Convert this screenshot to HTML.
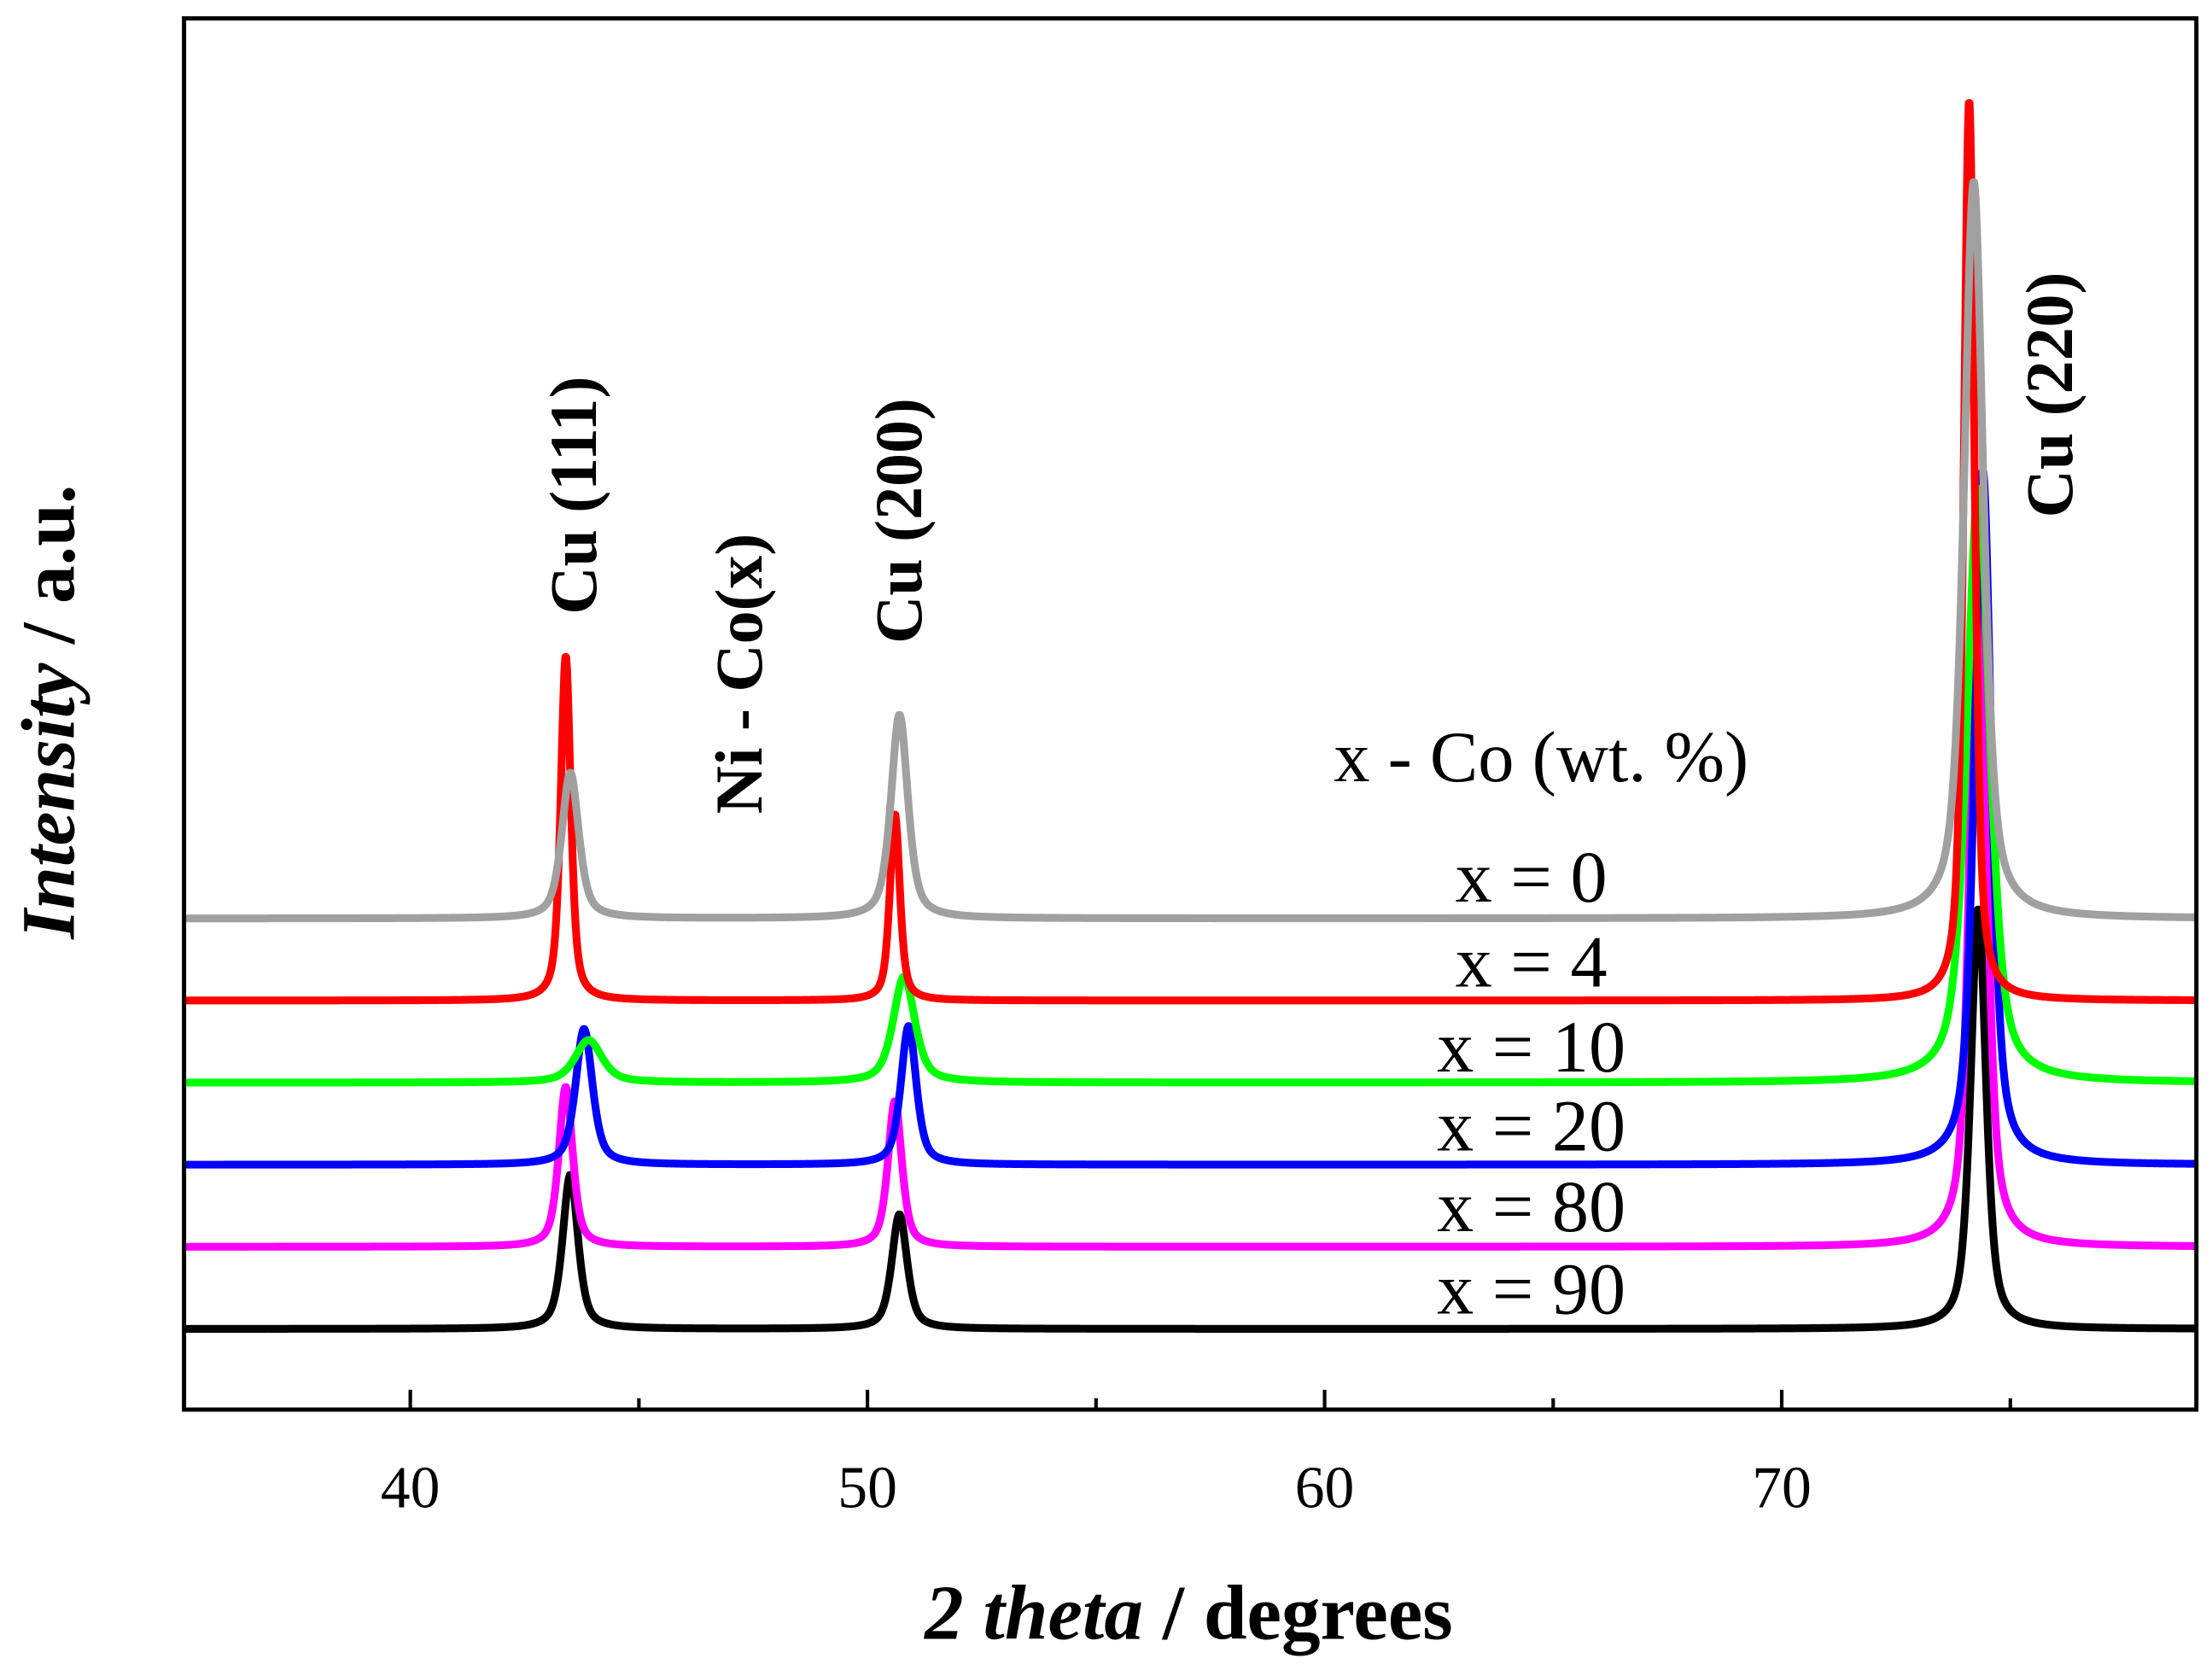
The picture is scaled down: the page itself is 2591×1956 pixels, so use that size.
<!DOCTYPE html>
<html><head><meta charset="utf-8"><style>
html,body{margin:0;padding:0;background:#fff;}
svg{display:block;}
text{font-family:"Liberation Serif",serif;fill:#000;}
</style></head><body>
<svg id="chart" width="2591" height="1956" viewBox="0 0 1563 1180" xmlns="http://www.w3.org/2000/svg">
<g id="series"></g>
<rect x="130" y="13" width="1422" height="983" fill="none" stroke="#000" stroke-width="3"/>
<g id="ticks"></g>
<text x="840" y="1158" text-anchor="middle" font-size="55" font-weight="bold"><tspan font-style="italic">2 theta</tspan> / degrees</text>
<text transform="translate(52,503) rotate(-90)" text-anchor="middle" font-size="54" font-weight="bold"><tspan font-style="italic">Intensity</tspan> / a.u.</text>
<text transform="translate(421,350) rotate(-90)" text-anchor="middle" font-size="47" font-weight="bold">Cu (111)</text>
<text transform="translate(538,476) rotate(-90)" text-anchor="middle" font-size="47" font-weight="bold">Ni - Co(x)</text>
<text transform="translate(651,368) rotate(-90)" text-anchor="middle" font-size="47" font-weight="bold">Cu (200)</text>
<text transform="translate(1464,279) rotate(-90)" text-anchor="middle" font-size="47" font-weight="bold">Cu (220)</text>
<text x="1089" y="552" text-anchor="middle" font-size="51">x - Co (wt. %)</text>
<g id="legend"></g>
</svg>
<script>
const seriesNames = ["x = 0","x = 4","x = 10","x = 20","x = 80","x = 90"];
const seriesColors = ["#a0a0a0","#ff0000","#00ff00","#0000ff","#ff00ff","#000000"];
const baselines = [649,707,765,823,881,939];
const peakPos = [[43.5,50.7,74.2],[43.4,50.6,74.1],[43.9,50.8,74.3],[43.8,50.9,74.4],[43.4,50.6,74.3],[43.5,50.7,74.3]];
const peakHeights = [[103,144,521],[244,132,637],[30,75,420],[96,98,491],[113,103,541],[109,81,297]];
const peakWidths = [[0.22,0.22,0.25],[0.13,0.13,0.14],[0.35,0.28,0.3],[0.22,0.2,0.22],[0.18,0.18,0.2],[0.2,0.2,0.2]];
const legendY = [637,697,757,813,870,928];
const xTicks = [40,50,60,70];
const xMinor = [45,55,65,75];
const xMin = 35.05, xMax = 79.07, pxL = 130, pxR = 1552;
const sx = v => pxL + (v - xMin) / (xMax - xMin) * (pxR - pxL);
const NS = "http://www.w3.org/2000/svg";
const sg = document.getElementById("series");
for (let i = seriesNames.length - 1; i >= 0; i--) {
  let d = "";
  for (let x = xMin; x <= xMax; x += 0.02) {
    let y = 0;
    for (let k = 0; k < 3; k++) {
      const w = peakWidths[i][k], t = (x - peakPos[i][k]) / w;
      y += peakHeights[i][k] * (0.6 / (1 + t * t) + 0.4 * Math.exp(-t * t * 0.693));
    }
    d += (d ? "L" : "M") + sx(x).toFixed(2) + "," + (baselines[i] - y).toFixed(2);
  }
  const p = document.createElementNS(NS, "path");
  p.setAttribute("d", d);
  p.setAttribute("fill", "none");
  p.setAttribute("stroke", seriesColors[i]);
  p.setAttribute("stroke-width", "5.5");
  p.setAttribute("stroke-linejoin", "round");
  
  
  sg.appendChild(p);
}
const tg = document.getElementById("ticks");
xTicks.forEach(v => {
  const l = document.createElementNS(NS, "line");
  l.setAttribute("x1", sx(v)); l.setAttribute("x2", sx(v));
  l.setAttribute("y1", 996); l.setAttribute("y2", 982);
  l.setAttribute("stroke", "#000"); l.setAttribute("stroke-width", "2.5");
  
  
  tg.appendChild(l);
  const t = document.createElementNS(NS, "text");
  t.setAttribute("x", sx(v)); t.setAttribute("y", 1065);
  t.setAttribute("text-anchor", "middle"); t.setAttribute("font-size", "42");
  t.textContent = v;
  
  
  tg.appendChild(t);
});
xMinor.forEach(v => {
  const l = document.createElementNS(NS, "line");
  l.setAttribute("x1", sx(v)); l.setAttribute("x2", sx(v));
  l.setAttribute("y1", 996); l.setAttribute("y2", 988);
  l.setAttribute("stroke", "#000"); l.setAttribute("stroke-width", "2.5");
  
  
  tg.appendChild(l);
});
const lg = document.getElementById("legend");
seriesNames.forEach((n, i) => {
  const t = document.createElementNS(NS, "text");
  t.setAttribute("x", 1082); t.setAttribute("y", legendY[i]);
  t.setAttribute("text-anchor", "middle"); t.setAttribute("font-size", "52");
  t.textContent = n;
  
  
  lg.appendChild(t);
});
</script>
</body></html>
